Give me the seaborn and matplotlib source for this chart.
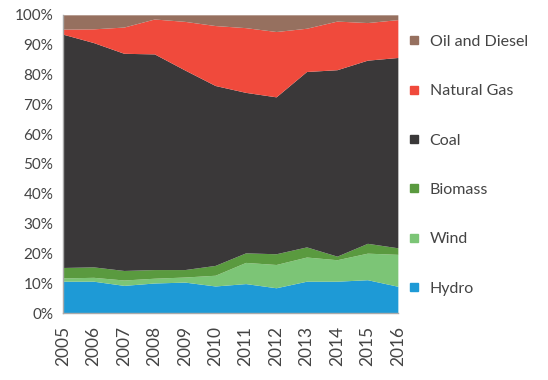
import numpy as np
import matplotlib
matplotlib.use("Agg")
import matplotlib.pyplot as plt
from matplotlib.lines import Line2D
from matplotlib.ticker import PercentFormatter
import seaborn as sns

# Share of generation by source (%)
years = [2005, 2006, 2007, 2008, 2009, 2010, 2011, 2012, 2013, 2014, 2015, 2016]
hydro = [10.7, 10.7, 9.3, 10.1, 10.4, 9.1, 9.9, 8.5, 10.7, 10.7, 11.2, 9.0]
wind = [1.1, 1.3, 1.8, 1.6, 1.7, 3.6, 7.1, 7.8, 8.1, 7.2, 8.9, 10.7]
biomass = [3.5, 3.5, 3.2, 2.9, 2.5, 3.3, 3.2, 3.6, 3.4, 1.2, 3.3, 2.2]
coal = [78.2, 75.2, 72.8, 72.3, 66.9, 60.3, 53.8, 52.6, 58.8, 62.5, 61.4, 63.8]
gas = [1.7, 4.6, 8.8, 11.7, 16.3, 20.1, 21.7, 21.9, 14.5, 16.3, 12.6, 12.7]
oil = [4.8, 4.7, 4.1, 1.4, 2.2, 3.6, 4.3, 5.6, 4.5, 2.1, 2.6, 1.6]

labels = ["Hydro", "Wind", "Biomass", "Coal", "Natural Gas", "Oil and Diesel"]
colors = ["#1e9ad6", "#7cc576", "#5a9a3f", "#3a3839", "#f04a3c", "#96705f"]

sns.set_theme(style="white")
plt.rcParams["font.family"] = ["Lato", "DejaVu Sans"]
text_col = "#444444"

fig = plt.figure(figsize=(5.48, 3.8), dpi=100)
ax = fig.add_axes([0.115, 0.176, 0.611, 0.785])

ax.stackplot(years, hydro, wind, biomass, coal, gas, oil, colors=colors, lw=0)

ax.set_xlim(2005, 2016)
ax.set_ylim(0, 100)
ax.set_xticks(years)
ax.set_xticklabels([str(y) for y in years], rotation=90, fontsize=12.5, color=text_col)
ax.set_yticks(np.arange(0, 101, 10))
ax.yaxis.set_major_formatter(PercentFormatter(decimals=0))
ax.tick_params(axis="y", labelsize=11, colors=text_col, length=4, width=1, color="#aaaaaa", pad=3)
ax.tick_params(axis="x", length=5, width=1, color="#aaaaaa", pad=4)
for t in ax.get_yticklabels():
    t.set_color(text_col)

for s in ["top", "right"]:
    ax.spines[s].set_visible(False)
for s in ["left", "bottom"]:
    ax.spines[s].set_color("#aaaaaa")
    ax.spines[s].set_linewidth(1)

# Legend, top to bottom in stack order
handles = [Line2D([], [], marker="s", ls="", markersize=6, color=c) for c in colors[::-1]]
leg = fig.legend(handles, labels[::-1], loc="upper left", bbox_to_anchor=(0.73, 0.925),
                 frameon=False, fontsize=11.5, labelspacing=2.2, handletextpad=0.45,
                 handlelength=1.0, borderaxespad=0)
for t in leg.get_texts():
    t.set_color(text_col)

fig.savefig("out.png", dpi=100)
